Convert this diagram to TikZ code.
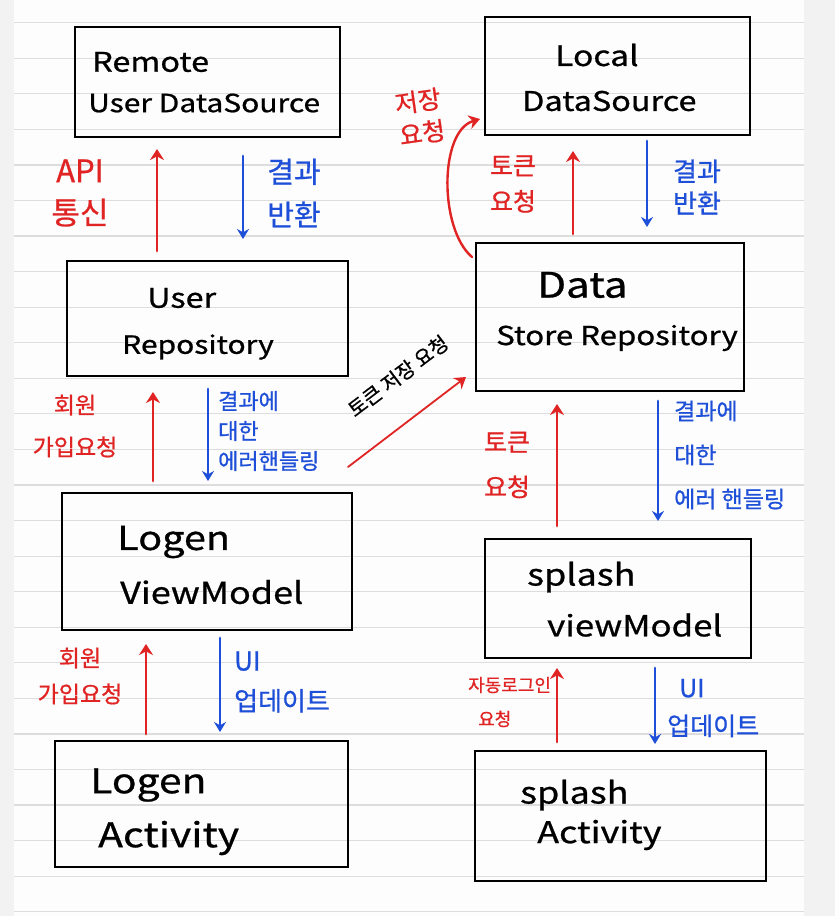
\documentclass[tikz,border=0pt]{standalone}
\usepackage{fontspec}
\setmainfont{Noto Sans CJK KR}[FakeBold=0.8]
\newfontfamily\boxf{Noto Sans CJK KR}[FakeStretch=1.2,FakeBold=0.8]
\usetikzlibrary{arrows.meta,calc}
\definecolor{hred}{HTML}{E02424}
\definecolor{hblue}{HTML}{1E4FD8}
\definecolor{marginc}{HTML}{F2F2F2}
\definecolor{paperc}{HTML}{FDFDFD}
\definecolor{rulec}{HTML}{DDDDDD}
\newcommand\hfs[2]{\fontsize{#1}{#2}\selectfont}
\newcommand\bfs[1]{\boxf\fontsize{#1}{#1}\selectfont}
\tikzset{
  box/.style={draw=black, line width=2pt, inner sep=0pt, fill=none},
  redarr/.style={draw=hred, line width=2.8pt, line cap=round, -{Stealth[length=11pt,width=14pt]}},
  bluearr/.style={draw=hblue, line width=2.8pt, line cap=round, -{Stealth[length=10pt,width=12pt]}},
  boxtext/.style={anchor=west, inner sep=0pt, text=black},
  redlbl/.style={text=hred, align=center, inner sep=0pt},
  bluelbl/.style={text=hblue, align=left, inner sep=0pt, anchor=west},
}
\begin{document}
\begin{tikzpicture}[x=1pt,y=-1pt]
% paper
\fill[marginc] (0,0) rectangle (835,916);
\fill[paperc] (14,0) rectangle (804,916);
\foreach \k in {0,...,25} \draw[rulec, line width=1.2pt] (14,{22.7+35.56*\k}) -- (804,{22.7+35.56*\k});
\useasboundingbox (0,0) rectangle (835,916);

% boxes
\node[box, minimum width=265pt, minimum height=110pt] (rds) at (207.5,82) {};
\node[box, minimum width=265pt, minimum height=118pt] (lds) at (617.5,76) {};
\node[box, minimum width=281pt, minimum height=115pt] (ur)  at (207.5,318.5) {};
\node[box, minimum width=268pt, minimum height=148pt] (dsr) at (610,317) {};
\node[box, minimum width=290pt, minimum height=137pt] (lvm) at (207,561.5) {};
\node[box, minimum width=266pt, minimum height=119pt] (svm) at (618,598.5) {};
\node[box, minimum width=293pt, minimum height=126pt] (la)  at (201.5,804) {};
\node[box, minimum width=291pt, minimum height=130pt] (sa)  at (620.5,816) {};

% box texts
\node[boxtext, font=\bfs{27}] (t1a) at (92,62) {Remote};
\node[boxtext, font=\bfs{25}] (t1b) at (88,103) {User DataSource};
\node[boxtext, font=\bfs{28}] (t2a) at (555,55) {Local};
\node[boxtext, font=\bfs{27}] (t2b) at (522,101) {DataSource};
\node[boxtext, font=\bfs{27}] (t3a) at (147,298) {User};
\node[boxtext, font=\bfs{25}] (t3b) at (122,347) {Repository};
\node[boxtext, font=\bfs{35}] (t4a) at (537,285) {Data};
\node[boxtext, font=\bfs{26}] (t4b) at (496,338) {Store Repository};
\node[boxtext, font=\bfs{33}] (t5a) at (117,542) {Logen};
\node[boxtext, font=\bfs{30}] (t5b) at (120,592) {ViewModel};
\node[boxtext, font=\bfs{30}] (t6a) at (527,577) {splash};
\node[boxtext, font=\bfs{29}] (t6b) at (547,625) {viewModel};
\node[boxtext, font=\bfs{34}] (t7a) at (90,785) {Logen};
\node[boxtext, font=\bfs{34}] (t7b) at (98,838) {Activity};
\node[boxtext, font=\bfs{30}] (t8a) at (520,795) {splash};
\node[boxtext, font=\bfs{30}] (t8b) at (537,835) {Activity};

% anchor coordinates for vertical arrows
\coordinate (c1) at ([xshift=-50.5pt]rds.south);
\coordinate (c2) at ([xshift=35.5pt]rds.south);
\coordinate (c3) at ([xshift=-44.5pt]lds.south);
\coordinate (c4) at ([xshift=29.5pt]lds.south);
\coordinate (c6) at ([xshift=-54.5pt]ur.south);
\coordinate (c7) at ([xshift=0.5pt]ur.south);
\coordinate (c9) at ([xshift=-53pt]dsr.south);
\coordinate (c10) at ([xshift=48pt]dsr.south);
\coordinate (c11) at ([xshift=-61pt]lvm.south);
\coordinate (c12) at ([xshift=13pt]lvm.south);
\coordinate (c13) at ([xshift=-61pt]svm.south);
\coordinate (c14) at ([xshift=37pt]svm.south);

% Remote <-> User repository
\draw[redarr, shorten <=9pt, shorten >=11pt] (c1 |- ur.north) -- (c1);
\draw[bluearr, shorten <=18pt, shorten >=21pt] (c2) -- (c2 |- ur.north);
% Local <-> DataStore
\draw[redarr, shorten <=8pt, shorten >=15pt] (c3 |- dsr.north) -- (c3);
\draw[bluearr, shorten <=5pt, shorten >=15pt] (c4) -- (c4 |- dsr.north);
\coordinate (cs) at ([xshift=-3pt,yshift=-15pt]dsr.north west);
\coordinate (ce) at ([xshift=-4pt,yshift=17pt]lds.south west);
\draw[redarr, line width=2.4pt] (cs) .. controls +(-33,-28) and +(-41,12) .. (ce);
% User repo <-> Logen VM
\draw[redarr, shorten <=11pt, shorten >=15pt] (c6 |- lvm.north) -- (c6);
\draw[bluearr, shorten <=12pt, shorten >=11pt] (c7) -- (c7 |- lvm.north);
% diagonal
\coordinate (ds) at ([xshift=-5pt,yshift=25pt]lvm.north east);
\coordinate (de) at ([xshift=-9pt,yshift=15pt]dsr.south west);
\draw[redarr, line width=1.8pt] (ds) -- (de);
\node[rotate=37, font=\hfs{20}{22}, inner sep=0pt] (tdiag) at (398,376) {토큰 저장 요청};
% DataStore <-> splash VM
\draw[redarr, shorten <=12pt, shorten >=12pt] (c9 |- svm.north) -- (c9);
\draw[bluearr, shorten <=9pt, shorten >=17pt] (c10) -- (c10 |- svm.north);
% Logen VM <-> Logen activity
\draw[redarr, shorten <=6pt, shorten >=13pt] (c11 |- la.north) -- (c11);
\draw[bluearr, shorten <=7pt, shorten >=8pt] (c12) -- (c12 |- la.north);
% splash VM <-> splash activity
\draw[redarr, shorten <=8pt, shorten >=9pt] (c13 |- sa.north) -- (c13);
\draw[bluearr, shorten <=9pt, shorten >=6pt] (c14) -- (c14 |- sa.north);

% labels
\node[redlbl, font=\hfs{31}{42}] (l1) at (80,193) {API\\통신};
\node[redlbl, text=hblue, font=\hfs{29}{43}] (l2) at (294,193) {결과\\반환};
\node[redlbl, font=\hfs{25}{32}, rotate=8] (l3) at (420,117) {저장\\요청};
\node[redlbl, font=\hfs{25}{36}] (l4) at (513,184) {토큰\\요청};
\node[redlbl, text=hblue, font=\hfs{26}{32}] (l5) at (697,187) {결과\\반환};
\node[redlbl, font=\hfs{23}{42}] (l6) at (75,426) {회원\\가입요청};
\node[bluelbl, font=\hfs{22}{30}] (l7) at (218,431) {결과에\\대한\\에러핸들링};
\node[redlbl, font=\hfs{25}{45}] (l8) at (507,465) {토큰\\요청};
\node[bluelbl, font=\hfs{23}{44}] (l9) at (674,455) {결과에\\대한\\에러 핸들링};
\node[redlbl, font=\hfs{23}{36}] (l10) at (80,676) {회원\\가입요청};
\node[bluelbl, font=\hfs{26}{40}] (l11) at (234,682) {UI\\업데이트};
\node[bluelbl, text=hred, font=\hfs{18}{34}] (l12) at (468,702) {자동로그인\\\hspace*{10pt}요청};
\node[bluelbl, font=\hfs{25}{38}] (l13) at (667,708) {\hspace*{12pt}UI\\업데이트};
\end{tikzpicture}
\end{document}
